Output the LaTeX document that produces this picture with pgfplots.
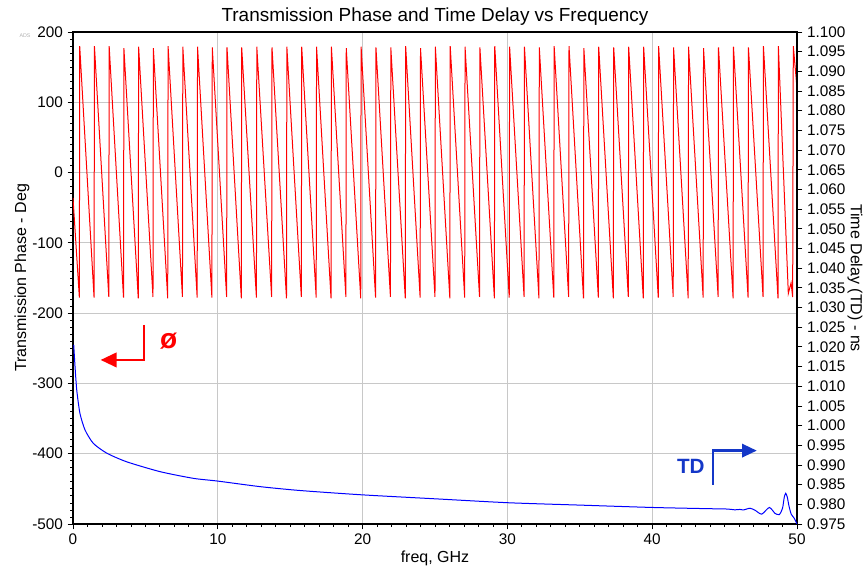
\documentclass[border=0pt]{standalone}
\usepackage{fontspec}
\setmainfont{Liberation Sans}
\usepackage{pgfplots}
\pgfplotsset{compat=1.18}
\usetikzlibrary{arrows.meta}

\definecolor{phred}{RGB}{255,0,0}
\definecolor{tdblue}{RGB}{0,0,255}
\definecolor{tdtext}{RGB}{20,55,200}
\definecolor{gridgray}{RGB}{200,200,200}

\pgfplotsset{
  common/.style={
    scale only axis, width=543pt, height=369pt,
    xmin=0, xmax=50,
    tick align=outside,
    major tick length=4pt, minor tick length=2.2pt,
    tick style={black, line width=0.6pt},
    axis line style={line width=0.8pt},
    tick label style={font=\fontsize{11.5}{13}\selectfont},
    label style={font=\fontsize{12}{14}\selectfont},
    /pgf/number format/assume math mode=true,
  }
}

\begin{document}
\begin{tikzpicture}
\begin{axis}[common, name=ph,
  ymin=-500, ymax=200,
  xtick={0,10,...,50}, ytick={-500,-400,...,200},
  minor x tick num=9, minor y tick num=9,
  xtick pos=bottom, ytick pos=left,
  grid=major, major grid style={gridgray, line width=0.7pt},
  xlabel={freq, GHz},
  xlabel style={at={(rel axis cs:0.5,0)}, anchor=center, yshift=-25.5pt},
  ylabel={Transmission Phase - Deg},
  ylabel style={at={(rel axis cs:0,0.5)}, anchor=center, yshift=38.25pt},
  title={Transmission Phase and Time Delay vs Frequency},
  every axis title/.style={font=\fontsize{14.2}{16}\selectfont, at={(rel axis cs:0.5,1)}, anchor=center, yshift=11.25pt},
]
\addplot[phred, line width=0.75pt] coordinates {
(0,-36) (0.44,-178)
(0.463,180) (1.455,-178)
(1.480,180) (2.472,-177)
(2.497,180) (3.490,-178)
(3.515,177) (4.507,-179)
(4.532,179) (5.524,-177)
(5.549,177) (6.541,-179)
(6.566,180) (7.559,-177)
(7.584,179) (8.576,-178)
(8.601,179) (9.593,-178)
(9.618,178) (10.610,-177)
(10.635,178) (11.625,-179)
(11.650,178) (12.668,-178)
(12.693,179) (13.718,-177)
(13.743,178) (14.744,-179)
(14.769,179) (15.769,-177)
(15.794,179) (16.795,-178)
(16.820,179) (17.820,-179)
(17.845,179) (18.846,-177)
(18.871,177) (19.871,-179)
(19.896,179) (20.897,-178)
(20.922,178) (21.923,-177)
(21.948,178) (22.948,-179)
(22.973,180) (23.974,-178)
(23.999,177) (24.999,-177)
(25.024,179) (26.025,-179)
(26.050,180) (27.050,-178)
(27.075,179) (28.076,-177)
(28.101,178) (29.101,-179)
(29.126,180) (30.127,-178)
(30.152,179) (31.152,-177)
(31.177,179) (32.178,-179)
(32.203,178) (33.203,-178)
(33.228,180) (34.229,-177)
(34.254,180) (35.255,-179)
(35.280,177) (36.280,-178)
(36.305,179) (37.316,-179)
(37.341,178) (38.350,-177)
(38.375,179) (39.384,-179)
(39.409,179) (40.418,-178)
(40.443,180) (41.451,-177)
(41.476,178) (42.485,-179)
(42.510,179) (43.519,-178)
(43.544,177) (44.553,-177)
(44.578,178) (45.587,-179)
(45.612,179) (46.621,-178)
(46.646,178) (47.655,-177)
(47.680,180) (48.688,-179)
(48.713,180) (49.40,-172) (49.59,-157) (49.70,-177)
(49.744,180) (50,120)
};
% annotations
\draw[phred, line width=1.5pt, -{Triangle[length=12pt,width=11pt]}]
  (axis cs:4.92,-216.8) -- (axis cs:4.92,-266.6) -- (axis cs:1.91,-266.6);
\node[phred, font=\fontsize{21}{21}\selectfont\bfseries] at (axis cs:6.6,-240.5) {ø};
\draw[tdtext, line width=1.7pt, -{Triangle[length=11pt,width=10pt]}]
  (axis cs:44.18,-444.4) -- (axis cs:44.18,-395.6) -- (axis cs:47.22,-395.6);
\node[tdtext, font=\fontsize{15.5}{16}\selectfont\bfseries] at (axis cs:42.67,-418.3) {TD};
\end{axis}

\begin{axis}[common,
  ymin=0.975, ymax=1.100,
  axis x line=none, axis y line*=right,
  ytick={0.975,0.980,0.985,0.990,0.995,1.000,1.005,1.010,1.015,1.020,1.025,1.030,1.035,1.040,1.045,1.050,1.055,1.060,1.065,1.070,1.075,1.080,1.085,1.090,1.095,1.100},
  yticklabel style={/pgf/number format/.cd, fixed, fixed zerofill, precision=3},
  scaled y ticks=false,
  ylabel={Time Delay (TD) - ns},
  ylabel style={at={(rel axis cs:1,0.5)}, anchor=center, rotate=180, yshift=43.5pt},
]
\addplot[tdblue, line width=0.75pt, smooth, tension=0.4] coordinates {
(0.05,1.0205) (0.14,1.0150) (0.26,1.0090) (0.48,1.0031) (0.83,0.9989)
(1.40,0.9955) (2.33,0.9930) (3.71,0.9908) (6.01,0.9883) (8.31,0.9866)
(10.0,0.9859) (12.9,0.9845) (15.7,0.9835) (20.0,0.9824) (25.0,0.9814)
(30.06,0.9804) (35.0,0.9798) (40.0,0.9792) (43.76,0.9789) (45.2,0.9788)
(45.7,0.9786) (46.06,0.9787) (46.29,0.97856) (46.75,0.9790) (47.10,0.9785)
(47.56,0.9775) (48.09,0.9792) (48.48,0.9777) (48.78,0.9774) (49.0,0.9790)
(49.12,0.9818) (49.22,0.9828) (49.33,0.9818) (49.45,0.9795) (49.60,0.9775)
(49.8,0.9765) (50.0,0.9750)
};
\end{axis}

\node[gray!60, font=\fontsize{4}{4}\selectfont] at ([shift={(-36pt,-3pt)}]ph.north west) {ADS};

\pgfresetboundingbox
\path[use as bounding box] ([shift={(-54.75pt,-36.75pt)}]ph.south west)
  rectangle ([shift={(51.75pt,24pt)}]ph.north east);
\end{tikzpicture}
\end{document}
